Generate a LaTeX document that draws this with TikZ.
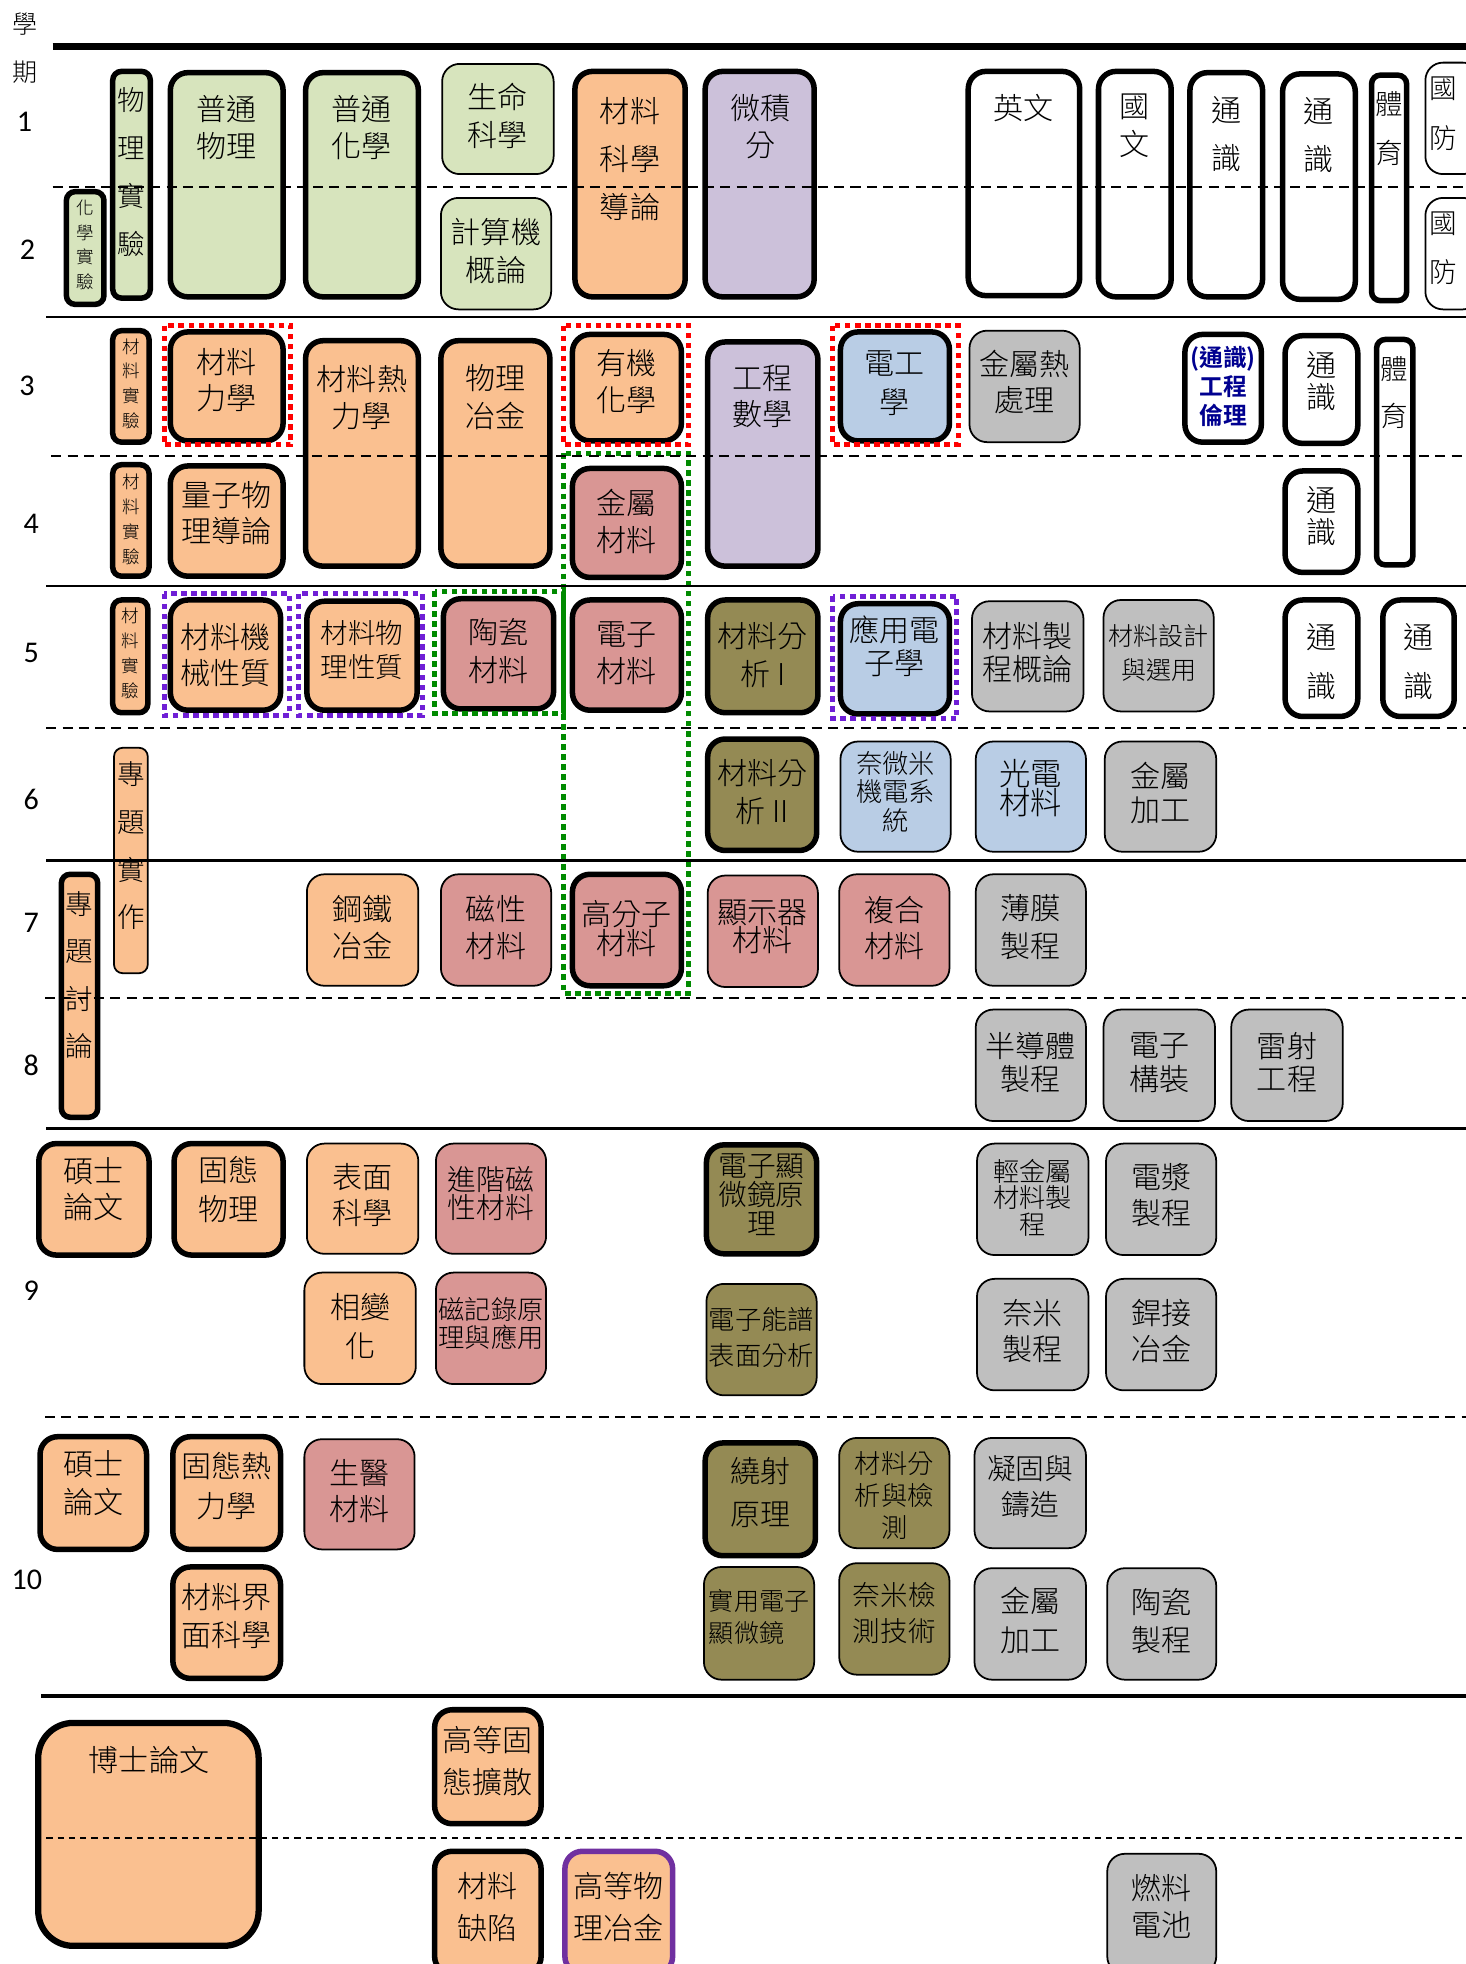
\documentclass[tikz,border=0pt]{standalone}
\usepackage{fontspec}
\setmainfont{Carlito}
\newfontfamily\cjk{Noto Sans CJK TC Light}[BoldFont={Noto Sans CJK TC Bold}]
\definecolor{cgrn}{HTML}{D7E4BD}
\definecolor{corg}{HTML}{FAC090}
\definecolor{cprp}{HTML}{CCC1DA}
\definecolor{crose}{HTML}{D99694}
\definecolor{cgry}{HTML}{BFBFBF}
\definecolor{cblu}{HTML}{B9CDE5}
\definecolor{coliv}{HTML}{948A54}
\definecolor{cnavy}{HTML}{000090}
\definecolor{cvio}{HTML}{7030A0}
\definecolor{cdvio}{HTML}{6F1FD6}
\definecolor{cdgrn}{HTML}{008A00}
\tikzset{
  thk/.style={draw=black, line width=4.4pt, rounded corners=14pt},
  thn/.style={draw=black, line width=1.4pt, rounded corners=14pt},
  nar/.style={rounded corners=7pt},
  txt/.style 2 args={font=\cjk\fontsize{#1}{#2}\selectfont, align=center, inner sep=0pt},
  num/.style={font=\fontsize{24}{24}\selectfont, inner sep=0pt},
  dsh/.style={line width=1.6pt, dash pattern=on 8pt off 5pt},
  sol/.style={line width=2pt},
  hl/.style={line width=4pt, dash pattern=on 4.5pt off 3.5pt},
}
\begin{document}
\begin{tikzpicture}[x=1pt,y=-1pt]
\useasboundingbox (0,0) rectangle (1170,1568);

% semesters
\node[txt={20}{20}] (xqa) at (20,19) {學};
\node[txt={20}{20}] (xqb) at (20,58) {期};
\node[num] (sem1) at (19.5,97) {1};
\node[num] (sem2) at (22,199) {2};
\node[num] (sem3) at (21.5,308) {3};
\node[num] (sem4) at (25,418.5) {4};
\node[num] (sem5) at (25,521) {5};
\node[num] (sem6) at (25,638) {6};
\node[num] (sem7) at (25,737) {7};
\node[num] (sem8) at (25,850.5) {8};
\node[num] (sem9) at (25,1030.7) {9};
\node[num] (sem10) at (21.5,1261) {10};

% semester 1-2
\draw[thk,nar,fill=cgrn] (53,153) rectangle (83,243);
\node[txt={14}{19.5}] (hxsy) at (68,195.5) {化\\學\\實\\驗};
\draw[thk,nar,fill=cgrn] (90,57) rectangle (120,238);
\node[txt={22}{38.3}] (wlsy) at (105,137.5) {物\\理\\實\\驗};
\draw[thk,fill=cgrn] (136,58) rectangle (226,237);
\node[txt={24}{30}] (ptwl) at (181,102) {普通\\物理};
\draw[thk,fill=cgrn] (244,58) rectangle (334,237);
\node[txt={24}{30}] (pthx) at (289,102) {普通\\化學};
\draw[thn,fill=cgrn] (353,51) rectangle (442,139);
\node[txt={24}{30}] (smkx) at (397.5,92.7) {生命\\科學};
\draw[thn,fill=cgrn] (352,158) rectangle (440,247);
\node[txt={24}{30}] (jsjgl) at (396,200.6) {計算機\\概論};
\draw[thk,fill=corg] (459,57) rectangle (547,237);
\node[txt={24}{38}] (clkx) at (503,127) {材料\\科學\\導論};
\draw[thk,fill=cprp] (563,57) rectangle (650,237);
\node[txt={24}{30}] (wjf) at (607,101) {微積\\分};
\draw[thk,fill=white] (773,57) rectangle (862,236);
\node[txt={24}{30}] (yw) at (817.5,86) {英文};
\draw[thk,fill=white] (877,57) rectangle (935,237);
\node[txt={24}{30}] (gw) at (906,100.5) {國\\文};
\draw[thk,fill=white] (950,58) rectangle (1008,237);
\node[txt={24}{38}] (tsa) at (979,107) {通\\識};
\draw[thk,fill=white] (1024,59) rectangle (1082,239);
\node[txt={24}{38}] (tsb) at (1053,108) {通\\識};
\draw[thk,nar,fill=white] (1095,60) rectangle (1123,240);
\node[txt={22}{39}] (tya) at (1109,102.5) {體\\育};
\draw[thn,fill=white] (1138,50) rectangle (1182,139);
\node[txt={22}{40}] (gfa) at (1152,90.5) {國\\防};
\draw[thn,fill=white] (1138,158) rectangle (1182,247);
\node[txt={22}{39}] (gfb) at (1152,198) {國\\防};

% semester 3-4
\draw[thk,nar,fill=corg] (90,264) rectangle (119,353);
\node[txt={14}{19.8}] (clsyc) at (104.5,306.3) {材\\料\\實\\驗};
\draw[thk,nar,fill=corg] (90,371) rectangle (119,460);
\node[txt={14}{19.8}] (clsyd) at (104.5,414.6) {材\\料\\實\\驗};
\draw[thk,fill=corg] (136,265) rectangle (226,352);
\node[txt={24}{29}] (cllx) at (181,303.4) {材料\\力學};
\draw[thk,fill=corg] (136,372) rectangle (226,460);
\node[txt={24}{29}] (lzwl) at (181,409.5) {量子物\\理導論};
\draw[thk,fill=corg] (244,272) rectangle (334,452);
\node[txt={24}{30}] (clrlx) at (289,317.6) {材料熱\\力學};
\draw[thk,fill=corg] (352,272) rectangle (439,452);
\node[txt={24}{30}] (wlyj) at (395.5,317) {物理\\冶金};
\draw[thk,fill=corg] (457,267) rectangle (544,352);
\node[txt={24}{29}] (yjhx) at (500.5,304.7) {有機\\化學};
\draw[thk,fill=crose] (457,374) rectangle (544,461);
\node[txt={24}{29}] (jscl) at (500.5,416.3) {金屬\\材料};
\draw[thk,fill=cprp] (565,273) rectangle (653,452);
\node[txt={24}{29}] (gcsx) at (609,316.5) {工程\\數學};
\draw[thk,fill=cblu] (671,265) rectangle (758,352);
\node[txt={24}{31}] (dgx) at (714.5,306) {電工\\學};
\draw[thn,fill=cgry] (774,264) rectangle (862,353);
\node[txt={24}{28}] (jsrcl) at (818,305) {金屬熱\\處理};
\draw[thk,fill=white] (946,267) rectangle (1007,353);
\node[txt={19}{23.5},text=cnavy] (gcll) at (976.5,308.5) {\bfseries (通識)\\\bfseries 工程\\\bfseries 倫理};
\draw[thk,fill=white] (1026,268) rectangle (1084,354);
\node[txt={24}{25.6}] (tsc) at (1055,304) {通\\識};
\draw[thk,fill=white] (1026,376) rectangle (1084,457);
\node[txt={24}{26}] (tsd) at (1055,412) {通\\識};
\draw[thk,nar,fill=white] (1099,271) rectangle (1128,451);
\node[txt={22}{38}] (tyb) at (1113.5,313.5) {體\\育};
\draw[hl,red] (131,260) rectangle (232,355);
\draw[hl,red] (450,260) rectangle (550,355);
\draw[hl,red] (665,260) rectangle (765,355);

% semester 5-6
\draw[thk,nar,fill=corg] (90,479) rectangle (118,569);
\node[txt={14}{19.8}] (clsye) at (104,521.7) {材\\料\\實\\驗};
\draw[thk,fill=corg] (136,479) rectangle (224,567);
\node[txt={24}{29}] (cljx) at (180,523) {材料機\\械性質};
\draw[thk,fill=corg] (245,480) rectangle (333,567);
\node[txt={22}{27}] (clwx) at (289,519) {材料物\\理性質};
\draw[thk,fill=crose] (354,478) rectangle (442,566);
\node[txt={24}{30}] (tccl) at (398,520) {陶瓷\\材料};
\draw[thk,fill=crose] (457,479) rectangle (544,567);
\node[txt={24}{29}] (dzcl) at (500.5,521.5) {電子\\材料};
\draw[thk,fill=coliv] (565,479) rectangle (653,569);
\node[txt={24}{30}] (clfxa) at (609,523) {材料分\\析 I};
\draw[thk,fill=cblu] (671,482) rectangle (758,570);
\node[txt={24}{26}] (yydz) at (714.5,516) {應用電\\子學};
\draw[thn,fill=cgry] (776,480) rectangle (865,568);
\node[txt={24}{27}] (clzc) at (820.5,521) {材料製\\程概論};
\draw[thn,fill=cgry] (881,479) rectangle (969,568);
\node[txt={20}{27}] (clsj) at (925,521) {材料設計\\與選用};
\draw[thk,fill=white] (1026,479) rectangle (1084,572);
\node[txt={24}{39}] (tse) at (1055,528) {通\\識};
\draw[thk,fill=white] (1104,479) rectangle (1161,572);
\node[txt={24}{39}] (tsf) at (1132.5,528) {通\\識};
\draw[hl,cdvio] (131,474) rectangle (231,571);
\draw[hl,cdvio] (238,474) rectangle (337,571);
\draw[hl,cdvio] (665,476) rectangle (764,574);
\draw[thn,nar,fill=corg] (91,597) rectangle (118,777);
\node[txt={22}{38}] (ztsz) at (104.5,675.3) {專\\題\\實\\作};
\draw[thk,fill=coliv] (565,590) rectangle (652,679);
\node[txt={24}{30}] (clfxb) at (608.5,632.5) {材料分\\析 II};
\draw[thn,fill=cblu] (671,592) rectangle (759,680);
\node[txt={21}{22.6}] (nwm) at (715,632.3) {奈微米\\機電系\\統};
\draw[thn,fill=cblu] (779,592) rectangle (867,680);
\node[txt={25}{23}] (gdcl) at (823,629) {光電\\材料};
\draw[thn,fill=cgry] (882,592) rectangle (971,680);
\node[txt={24}{27}] (jsjga) at (926.5,633.4) {金屬\\加工};

% semester 7-8
\draw[thk,nar,fill=corg] (49,698) rectangle (78,892);
\node[txt={22}{37.8}] (zttl) at (63.5,778.5) {專\\題\\討\\論};
\draw[thn,fill=corg] (245,698) rectangle (334,787);
\node[txt={24}{29}] (gtyj) at (289.5,740.5) {鋼鐵\\冶金};
\draw[thn,fill=crose] (352,698) rectangle (440,787);
\node[txt={24}{29}] (cxcl) at (396,740.5) {磁性\\材料};
\draw[thk,fill=crose] (457,698) rectangle (544,787);
\node[txt={24}{21}] (gfz) at (500.5,741.5) {高分子\\材料};
\draw[thn,fill=crose] (565,699) rectangle (653,788);
\node[txt={24}{22.6}] (xsq) at (609,740) {顯示器\\材料};
\draw[thn,fill=crose] (670,698) rectangle (758,787);
\node[txt={24}{29}] (fhcl) at (714,740.7) {複合\\材料};
\draw[thn,fill=cgry] (779,698) rectangle (867,787);
\node[txt={24}{30}] (bmzc) at (823,740) {薄膜\\製程};
\draw[thn,fill=cgry] (779,806) rectangle (867,895);
\node[txt={24}{27}] (bdt) at (823,848.3) {半導體\\製程};
\draw[thn,fill=cgry] (881,806) rectangle (970,895);
\node[txt={24}{27}] (dzgz) at (925.5,848.3) {電子\\構裝};
\draw[thn,fill=cgry] (983,806) rectangle (1072,895);
\node[txt={24}{27}] (lsgc) at (1027.5,848.3) {雷射\\工程};
\draw[hl,cdgrn] (450,362) rectangle (550,793);
\draw[hl,cdgrn] (347,472) rectangle (450,570);

% master 9
\draw[thk,fill=corg] (31,913) rectangle (119,1002);
\node[txt={24}{29}] (sslwa) at (75,949.6) {碩士\\論文};
\draw[thk,fill=corg] (139,913) rectangle (226,1002);
\node[txt={24}{31}] (gtwl) at (182.5,949.6) {固態\\物理};
\draw[thn,fill=corg] (245,913) rectangle (334,1001);
\node[txt={24}{29}] (bmkx) at (289.5,954) {表面\\科學};
\draw[thn,fill=crose] (348,913) rectangle (436,1001);
\node[txt={23}{22.6}] (jjcx) at (392,953) {進階磁\\性材料};
\draw[thn,fill=corg] (243,1016) rectangle (332,1105);
\node[txt={24}{31}] (xbh) at (287.5,1059) {相變\\化};
\draw[thn,fill=crose] (348,1016) rectangle (436,1105);
\node[txt={21}{22.6}] (cjl) at (392,1056.7) {磁記錄原\\理與應用};
\draw[thk,fill=coliv] (564,914) rectangle (652,1001);
\node[txt={23}{23}] (dzxw) at (608,954) {電子顯\\微鏡原\\理};
\draw[thn,fill=coliv] (564,1025) rectangle (652,1114);
\node[txt={21}{29},align=left] (dznp) at (608,1068) {電子能譜\\表面分析};
\draw[thn,fill=cgry] (780,913) rectangle (869,1002);
\node[txt={21}{21.3}] (qjs) at (824.5,956.2) {輕金屬\\材料製\\程};
\draw[thn,fill=cgry] (883,913) rectangle (971,1002);
\node[txt={24}{29}] (djzc) at (927,954) {電漿\\製程};
\draw[thn,fill=cgry] (780,1021) rectangle (869,1110);
\node[txt={24}{29}] (nmzc) at (824.5,1062.5) {奈米\\製程};
\draw[thn,fill=cgry] (883,1021) rectangle (971,1110);
\node[txt={24}{29}] (hjyj) at (927,1062.5) {銲接\\冶金};

% master 10
\draw[thk,fill=corg] (32,1147) rectangle (117,1237);
\node[txt={24}{30}] (sslwb) at (74.5,1184) {碩士\\論文};
\draw[thk,fill=corg] (138,1147) rectangle (224,1237);
\node[txt={24}{32}] (gtrl) at (181,1186.5) {固態熱\\力學};
\draw[thn,fill=crose] (243,1149) rectangle (331,1237);
\node[txt={24}{29}] (sycl) at (287,1190.5) {生醫\\材料};
\draw[thk,fill=corg] (138,1251) rectangle (224,1340);
\node[txt={24}{30}] (cljm) at (181,1290) {材料界\\面科學};
\draw[thk,fill=coliv] (563,1152) rectangle (651,1242);
\node[txt={24}{34}] (rsyl) at (607,1191.5) {繞射\\原理};
\draw[thn,fill=coliv] (670,1148) rectangle (758,1236);
\node[txt={21}{25.8}] (clfxc) at (714,1194) {材料分\\析與檢\\測};
\draw[thn,fill=cgry] (778,1148) rectangle (867,1236);
\node[txt={23}{28.5}] (ngzz) at (822.5,1187) {凝固與\\鑄造};
\draw[thn,fill=coliv] (562,1251) rectangle (650,1341);
\node[txt={20}{26},align=left] (sydz) at (606,1291) {實用電子\\顯微鏡};
\draw[thn,fill=coliv] (670,1248) rectangle (758,1337);
\node[txt={22}{29}] (nmjc) at (714,1287.5) {奈米檢\\測技術};
\draw[thn,fill=cgry] (778,1252) rectangle (867,1341);
\node[txt={24}{31}] (jsjgb) at (822.5,1294) {金屬\\加工};
\draw[thn,fill=cgry] (884,1252) rectangle (971,1341);
\node[txt={24}{30}] (tczc) at (927.5,1294) {陶瓷\\製程};

% doctor
\draw[thk,line width=5pt,rounded corners=28pt,fill=corg] (30.5,1375.5) rectangle (206.5,1553.5);
\node[txt={24}{30}] (bslw) at (119,1405) {博士論文};
\draw[thk,fill=corg] (347,1365) rectangle (432,1456);
\node[txt={24}{33}] (gdgt) at (389.5,1406) {高等固\\態擴散};
\draw[thk,fill=corg] (347,1478) rectangle (432,1576);
\node[txt={24}{34}] (clqx) at (389.5,1522.5) {材料\\缺陷};
\draw[thk,draw=cvio,fill=corg] (451,1478) rectangle (537,1576);
\node[txt={24}{34}] (gdwl) at (494,1522.5) {高等物\\理冶金};
\draw[thn,fill=cgry] (884,1480) rectangle (971,1576);
\node[txt={24}{30}] (rldc) at (927.5,1522) {燃料\\電池};

% rules
\draw[line width=5.5pt] (42,37) -- (1175,37);
\draw[dsh] (42,149) -- (1175,149);
\draw[sol] (37,253) -- (1175,253);
\draw[dsh] (41,364) -- (1175,364);
\draw[sol] (37,468) -- (1175,468);
\draw[dsh] (37,581) -- (1175,581);
\draw[sol] (37,687) -- (1175,687);
\draw[dsh] (36,797) -- (1175,797);
\draw[sol,line width=2.5pt] (37,901) -- (1175,901);
\draw[dsh] (36,1131) -- (1175,1131);
\draw[line width=3.5pt] (33,1354) -- (1175,1354);
\draw[dsh,dash pattern=on 5pt off 4pt] (28,1467) -- (1175,1467);
\end{tikzpicture}
\end{document}
